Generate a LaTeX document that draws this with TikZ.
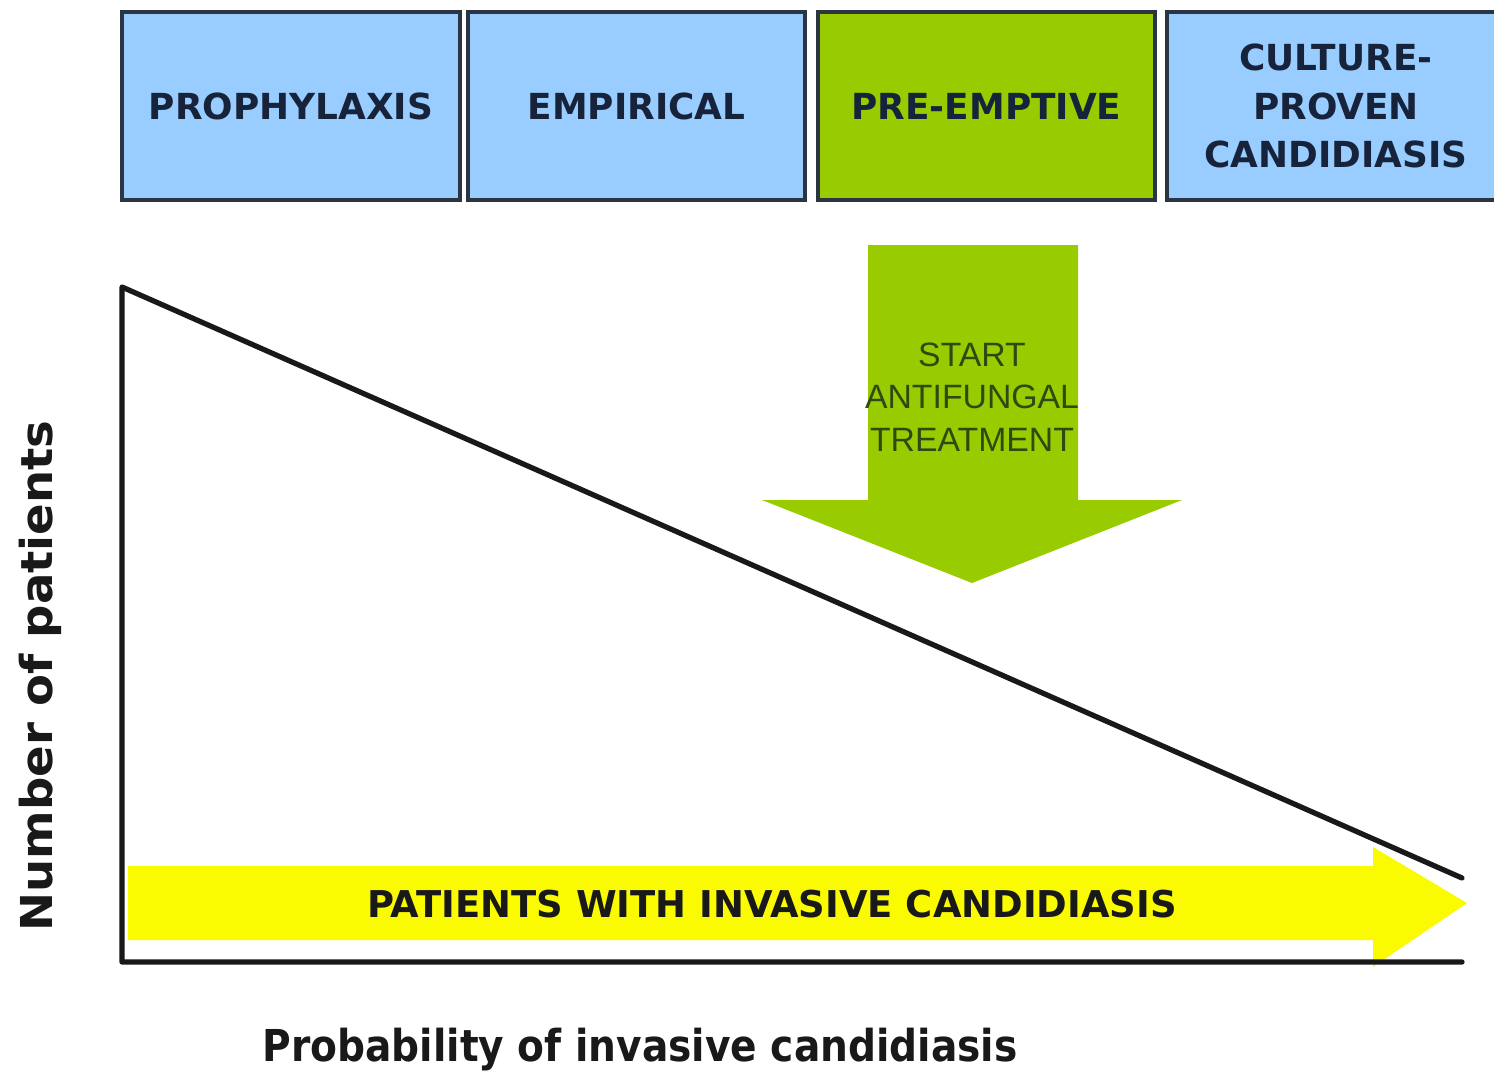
\documentclass[tikz,border=0pt]{standalone}
\usepackage{fontspec}
\setmainfont{DejaVu Sans}
\newfontfamily\arrowfont{Liberation Sans}
\usetikzlibrary{calc}

\definecolor{phaseblue}{HTML}{99CCFF}
\definecolor{phasegreen}{HTML}{99CC00}
\definecolor{boxedge}{HTML}{2B3541}
\definecolor{boxtext}{HTML}{17233A}
\definecolor{candyellow}{HTML}{FAFA00}
\definecolor{arrowtext}{HTML}{2E4A12}

\begin{document}
\begin{tikzpicture}[x=0.01cm, y=-0.01cm,
    phase/.style={draw=boxedge, line width=1.2pt, minimum height=1.88cm, inner sep=0pt,
        align=center, text=boxtext, font=\bfseries\fontsize{10.2}{13.8}\selectfont},
    axis/.style={line width=1.5pt, line cap=round, line join=round, draw=black!90},
    axislabel/.style={font=\bfseries\fontsize{12.5}{14}\selectfont, text=black!90}]
        \useasboundingbox (0,0) rectangle (1494,1075);

        % Treatment strategies (top row)
        \node[phase, fill=phaseblue, minimum width=3.38cm] (prophylaxis) at (291,106) {PROPHYLAXIS};
        \node[phase, fill=phaseblue, minimum width=3.37cm] (empirical) at (636.5,106) {EMPIRICAL};
        \node[phase, fill=phasegreen, minimum width=3.37cm] (preemptive) at (986.5,106) {PRE-EMPTIVE};
        \node[phase, fill=phaseblue, minimum width=3.38cm] (culture) at (1336,106) {CULTURE-\\PROVEN\\CANDIDIASIS};

        % Green arrow below pre-emptive
        \fill[phasegreen] (868,245) -- (1078,245) -- (1078,500) -- (1182,500)
            -- (972,583) -- (762,500) -- (868,500) -- cycle;
        \node[align=center, text=arrowtext, font=\arrowfont\fontsize{9.6}{12.1}\selectfont] (start) at (972,397)
            {START\\ANTIFUNGAL\\TREATMENT};

        % Axes and patient curve
        \coordinate (top) at (122,287);
        \coordinate (origin) at (122,962);
        \coordinate (xend) at (1462,962);
        \coordinate (lineend) at (1462,878);

        % Yellow arrow
        \fill[candyellow] (128,866) -- (1373,866) -- (1373,847) -- (1467,903)
            -- (1373,967) -- (1373,940) -- (128,940) -- cycle;
        \node[font=\bfseries\fontsize{10.5}{12}\selectfont, text=black!90] (invasive) at (772,904)
            {PATIENTS WITH INVASIVE CANDIDIASIS};

        \draw[axis] (lineend) -- (top) -- (origin) -- (xend);

        % Axis labels
        \node[axislabel, rotate=90, xscale=1.06] (ylabel) at (40,676) {Number of patients};
        \node[axislabel, xscale=0.89] (xlabel) at (640,1050) {Probability of invasive candidiasis};
\end{tikzpicture}
\end{document}
